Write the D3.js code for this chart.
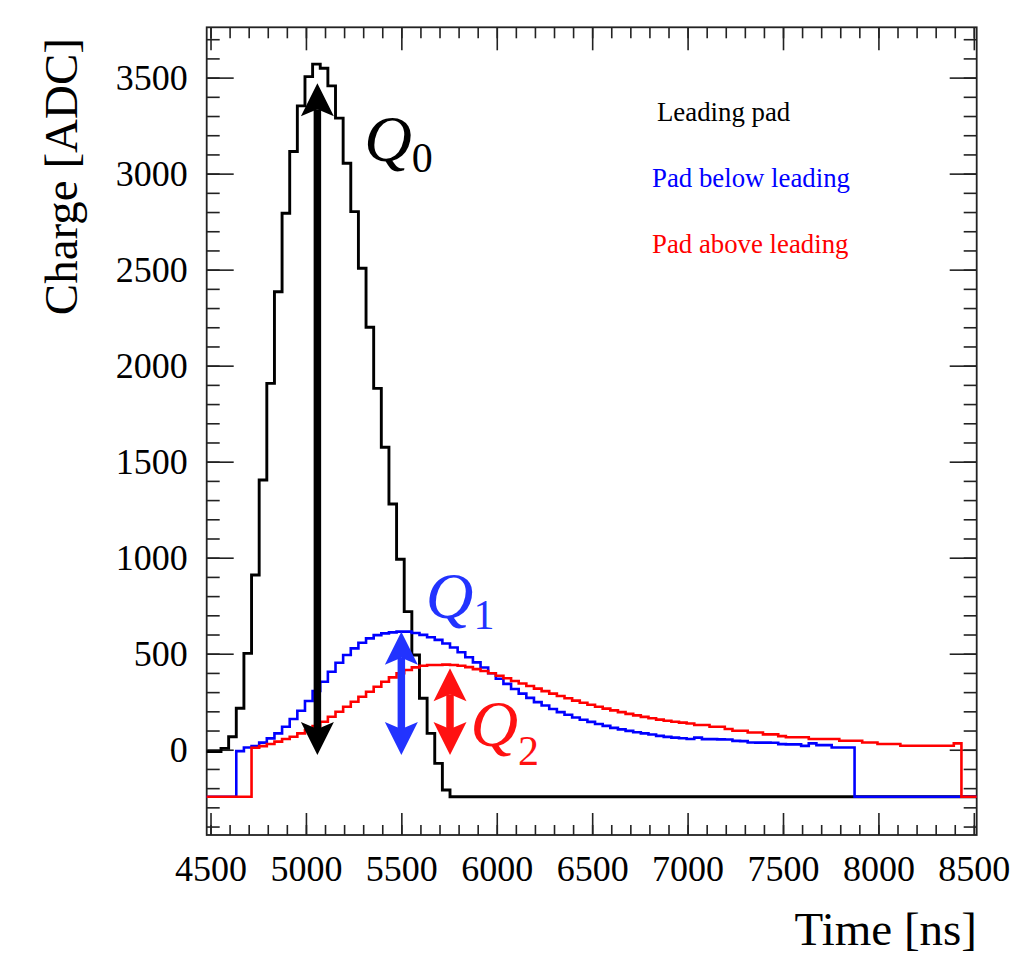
<!DOCTYPE html>
<html>
<head>
<meta charset="utf-8">
<script src="https://cdn.jsdelivr.net/npm/d3@7"></script>
<style>
  body { margin: 0; background: #fff; }
  text { font-family: "Liberation Serif", "Times New Roman", serif; }
</style>
</head>
<body>
<div id="chart"></div>
<script>
// pulse shapes of the three pads, 40 ns bins
var binWidth = 40;
var floorLevel = -245;   // value of empty bins

var blackStart = 4435;
var blackValues = [-10, -10, -10, 7, 68, 216, 502, 910, 1405, 1908, 2385, 2794, 3115, 3353,
  3505, 3570, 3549, 3457, 3289, 3054, 2802, 2507, 2200, 1882, 1575, 1280, 992, 719, 493,
  268, 85, -71, -210];

var blueStart = 4635;
var blueValues = [-7, 12, 19, 37, 59, 85, 120, 160, 203, 254, 306, 354, 406, 453, 493, 528,
  557, 580, 597, 606, 611, 615, 615, 608, 598, 586, 572, 553, 532, 508, 482, 455, 428, 398,
  370, 343, 316, 292, 270, 248, 230, 212, 196, 182, 168, 156, 145, 134, 124, 114, 106, 98,
  91, 85, 79, 72, 67, 63, 60, 56, 63, 55, 55, 54, 53, 46, 45, 38, 37, 37, 36, 29, 28, 28,
  20, 33, 24, 24, 12, 12, 12];

var redStart = 4715;
var redValues = [10, 19, 30, 42, 56, 68, 85, 103, 123, 146, 172, 198, 224, 250, 276, 302,
  328, 354, 377, 398, 415, 429, 437, 441, 441, 443, 441, 437, 430, 420, 410, 398, 385, 372,
  358, 345, 332, 318, 305, 292, 280, 268, 256, 245, 234, 224, 214, 205, 196, 187, 179, 171,
  164, 157, 151, 146, 141, 137, 129, 129, 120, 120, 108, 99, 99, 90, 90, 80, 80, 71, 65, 65,
  65, 56, 56, 56, 56, 47, 47, 47, 38, 38, 30, 30, 30, 21, 21, 21, 21, 21, 21, 21, 33];

// Q arrows: time, top, bottom
var arrowTime = [5060, 5500, 5755];
var arrowTop = [3470, 615, 424];
var arrowBottom = [-28, -28, -28];
var arrowColor = ["#000000", "#2233ff", "#ff1111"];

var xMajor = [4500, 5000, 5500, 6000, 6500, 7000, 7500, 8000, 8500];
var yMajor = [0, 500, 1000, 1500, 2000, 2500, 3000, 3500];
var xMinor = d3.range(4500, 8501, 100);
var yMinor = d3.range(-400, 3701, 100);

var legendText = ["Leading pad", "Pad below leading", "Pad above leading"];
var legendColor = ["#000000", "#0000ff", "#ff0000"];

var W = 1024, H = 965;
var L = 206.7, R = 976.7, T = 27.3, B = 835;

var svg = d3.select("#chart").append("svg")
  .attr("width", W).attr("height", H);

var x = d3.scaleLinear().domain([4480, 8515]).range([L, R]);
var y = d3.scaleLinear().domain([-444, 3762]).range([B, T]);

svg.append("clipPath").attr("id", "frame")
  .append("rect").attr("x", L).attr("y", T).attr("width", R - L).attr("height", B - T);

// axes (ticks on all four sides, ROOT style)
function styleAxis(g) {
  g.select(".domain").remove();
  g.selectAll("line").attr("stroke", "#222").attr("stroke-width", 1.6);
  g.selectAll("text").attr("fill", "#000").style("font-size", "36px")
    .style("font-family", "'Liberation Serif', 'Times New Roman', serif");
}

svg.append("g").attr("transform", "translate(0," + B + ")")
  .call(d3.axisBottom(x).tickValues(xMinor).tickSize(-10).tickFormat(""))
  .call(styleAxis);
svg.append("g").attr("transform", "translate(0," + B + ")")
  .call(d3.axisBottom(x).tickValues(xMajor).tickSize(-22).tickPadding(20).tickFormat(d3.format("d")))
  .call(styleAxis);
svg.append("g").attr("transform", "translate(0," + T + ")")
  .call(d3.axisTop(x).tickValues(xMinor).tickSize(-11).tickFormat(""))
  .call(styleAxis);
svg.append("g").attr("transform", "translate(0," + T + ")")
  .call(d3.axisTop(x).tickValues(xMajor).tickSize(-23).tickFormat(""))
  .call(styleAxis);

svg.append("g").attr("transform", "translate(" + L + ",0)")
  .call(d3.axisLeft(y).tickValues(yMinor).tickSize(-13).tickFormat(""))
  .call(styleAxis);
svg.append("g").attr("transform", "translate(" + L + ",0)")
  .call(d3.axisLeft(y).tickValues(yMajor).tickSize(-27).tickPadding(19).tickFormat(d3.format("d")))
  .call(styleAxis);
svg.append("g").attr("transform", "translate(" + R + ",0)")
  .call(d3.axisRight(y).tickValues(yMinor).tickSize(-13).tickFormat(""))
  .call(styleAxis);
svg.append("g").attr("transform", "translate(" + R + ",0)")
  .call(d3.axisRight(y).tickValues(yMajor).tickSize(-27).tickFormat(""))
  .call(styleAxis);

svg.append("rect")
  .attr("x", L).attr("y", T).attr("width", R - L).attr("height", B - T)
  .attr("fill", "none").attr("stroke", "#222").attr("stroke-width", 1.8);

// histograms
function histPoints(start, values) {
  var pts = [];
  var x0 = x.domain()[0] - 100, x1 = x.domain()[1] + 100;
  if (start > x0) pts.push([x0, floorLevel]);
  values.forEach(function(v, i) { pts.push([start + i * binWidth, v]); });
  pts.push([start + values.length * binWidth, floorLevel]);
  pts.push([x1, floorLevel]);
  return pts;
}

var line = d3.line()
  .x(function(d) { return x(d[0]); })
  .y(function(d) { return y(d[1]); })
  .curve(d3.curveStepAfter);

var hists = [
  { start: blackStart, values: blackValues, color: "#000000", width: 2.9 },
  { start: blueStart, values: blueValues, color: "#0000ff", width: 2.6 },
  { start: redStart, values: redValues, color: "#ff0000", width: 2.6 }
];

svg.append("g").attr("clip-path", "url(#frame)")
  .selectAll("path").data(hists).enter().append("path")
  .attr("d", function(d) { return line(histPoints(d.start, d.values)); })
  .attr("fill", "none")
  .attr("stroke", function(d) { return d.color; })
  .attr("stroke-width", function(d) { return d.width; })
  .attr("stroke-linejoin", "miter");

// double arrows
var headLen = 33, headHalf = 16.5, notch = 7, shaftW = 7.5;
arrowTime.forEach(function(t, i) {
  var xc = x(t), yt = y(arrowTop[i]), yb = y(arrowBottom[i]);
  var g = svg.append("g").attr("fill", arrowColor[i]);
  g.append("line")
    .attr("x1", xc).attr("x2", xc)
    .attr("y1", yt + headLen - notch).attr("y2", yb - headLen + notch)
    .attr("stroke", arrowColor[i]).attr("stroke-width", shaftW);
  g.append("path").attr("d", "M" + xc + "," + yt +
    "L" + (xc + headHalf) + "," + (yt + headLen) +
    "L" + xc + "," + (yt + headLen - notch) +
    "L" + (xc - headHalf) + "," + (yt + headLen) + "Z");
  g.append("path").attr("d", "M" + xc + "," + yb +
    "L" + (xc + headHalf) + "," + (yb - headLen) +
    "L" + xc + "," + (yb - headLen + notch) +
    "L" + (xc - headHalf) + "," + (yb - headLen) + "Z");
});

// Q labels, subscript flows after the Q
var qLabels = [
  { t: 5305, v: 3068, sub: "0", color: "#000000", dy: 11 },
  { t: 5628, v: 684, sub: "1", color: "#2233ff", dy: 11 },
  { t: 5862, v: 22, sub: "2", color: "#ff1111", dy: 19 }
];
qLabels.forEach(function(q) {
  var t = svg.append("text")
    .attr("x", x(q.t)).attr("y", y(q.v))
    .attr("fill", q.color);
  t.append("tspan").style("font-style", "italic").style("font-size", "66px").text("Q");
  t.append("tspan").attr("dy", q.dy)
    .style("font-size", "42px").text(q.sub);
});

// legend
var legendX = [657, 652, 652];
var legendY = [121, 187, 253];
legendText.forEach(function(s, i) {
  svg.append("text")
    .attr("x", legendX[i]).attr("y", legendY[i])
    .attr("fill", legendColor[i])
    .style("font-size", "26.8px")
    .text(s);
});

// axis titles
svg.append("text")
  .attr("x", 977).attr("y", 945)
  .attr("text-anchor", "end")
  .style("font-size", "47px")
  .text("Time [ns]");

svg.append("text")
  .attr("transform", "translate(77,38) rotate(-90)")
  .attr("text-anchor", "end")
  .style("font-size", "47px")
  .text("Charge [ADC]");
</script>
</body>
</html>
